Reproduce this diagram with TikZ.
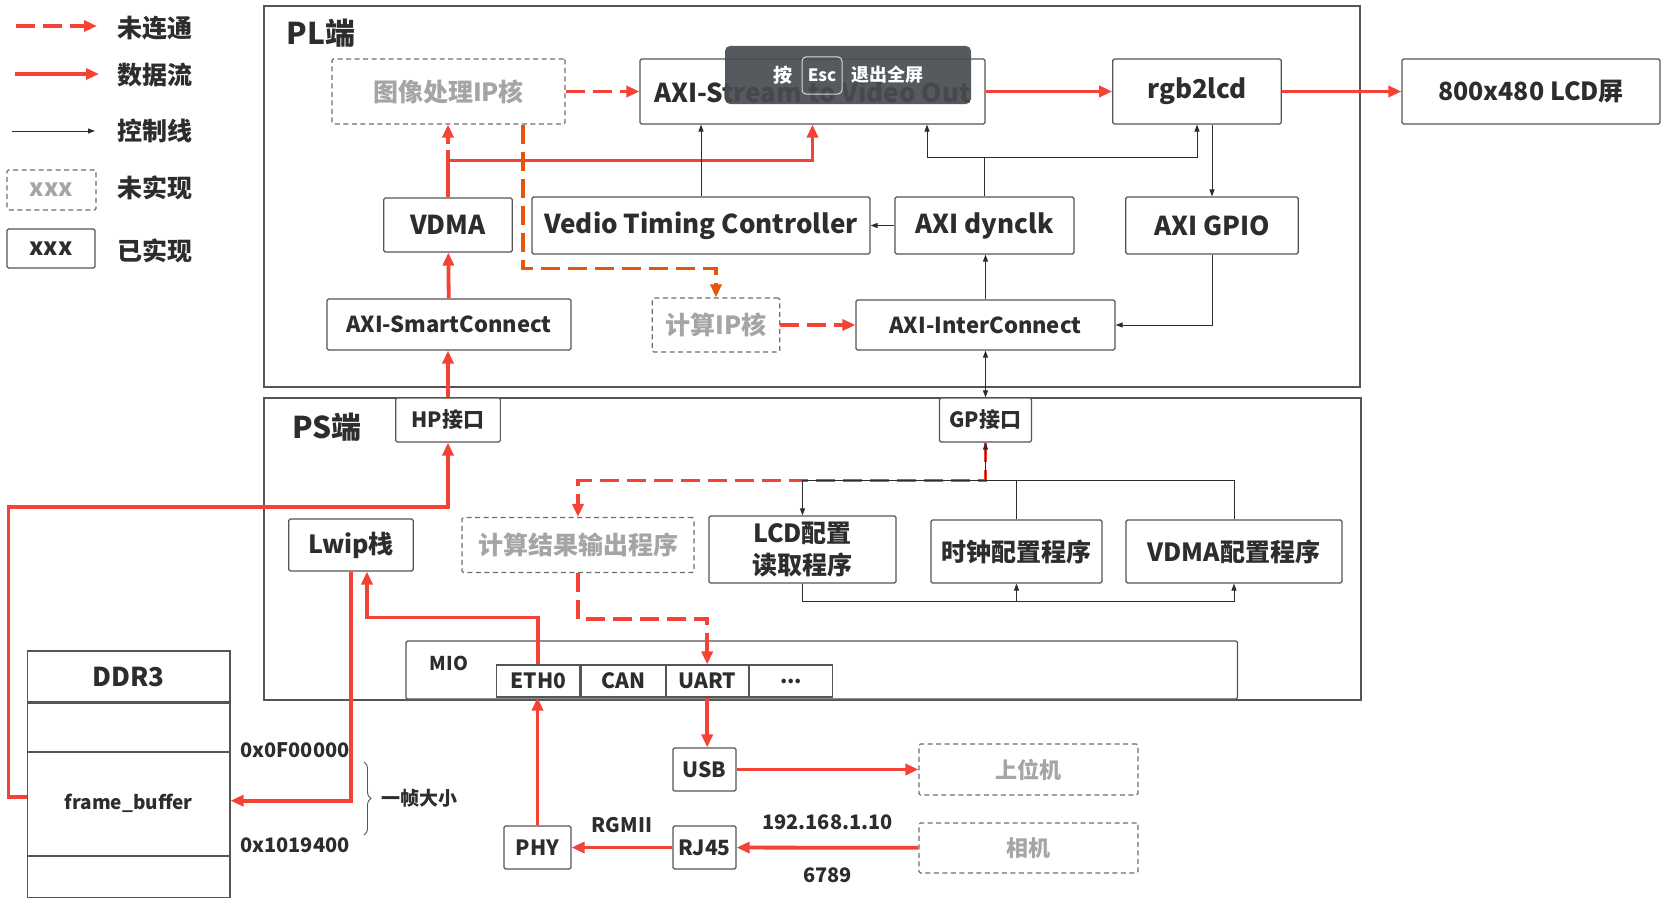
\documentclass[tikz,border=0pt]{standalone}
\usepackage{fontspec}
\setmainfont{Noto Sans CJK SC}
\usepackage{tikz}
\usetikzlibrary{arrows.meta,positioning,decorations.pathreplacing}

\definecolor{dataRed}{RGB}{244,67,54}
\definecolor{todoOrange}{RGB}{230,85,10}
\definecolor{txtDark}{RGB}{45,45,45}
\definecolor{txtGrey}{RGB}{165,165,165}
\definecolor{lineGrey}{RGB}{85,85,85}
\definecolor{tipBg}{RGB}{72,75,80}

\begin{document}
\begin{tikzpicture}
  [x=1pt,y=-1pt,
   every node/.style={rectangle,align=center,inner sep=0pt,text=txtDark,
                      font=\bfseries\fontsize{25}{32}\selectfont},
   box/.style 2 args={draw=lineGrey,line width=1.1pt,fill=white,rounded corners=1.5pt,
                      minimum width=#1,minimum height=#2},
   todobox/.style 2 args={box={#1}{#2},draw=lineGrey!85,dash pattern=on 5pt off 3.5pt,text=txtGrey},
   frame/.style 2 args={draw=lineGrey,line width=1.1pt,minimum width=#1,minimum height=#2},
   fxl/.style={font=\bfseries\fontsize{30}{34}\selectfont},
   fl/.style={font=\bfseries\fontsize{26}{31}\selectfont},
   fm/.style={font=\bfseries\fontsize{22}{27}\selectfont},
   fs/.style={font=\bfseries\fontsize{21}{25}\selectfont},
   fxs/.style={font=\bfseries\fontsize{19}{23}\selectfont},
   flow/.style={draw=dataRed,line width=3.8pt,-{Triangle[length=13pt,width=11pt]}},
   flowtodo/.style={flow,dash pattern=on 19pt off 8pt},
   orangetodo/.style={flowtodo,draw=todoOrange,line width=3.3pt},
   ctrl/.style={draw=txtDark,line width=1pt,-{Triangle[length=7pt,width=5pt]}}]

  \useasboundingbox (0,0) rectangle (1663,899);

  % legend
  \coordinate (lg1) at (16,26);  \coordinate (lg1e) at (97,26);
  \coordinate (lg2) at (15,74);  \coordinate (lg2e) at (99,74);
  \coordinate (lg3) at (12,131); \coordinate (lg3e) at (95,131);
  \draw[flowtodo] (lg1) -- (lg1e);
  \draw[flow] (lg2) -- (lg2e);
  \draw[ctrl] (lg3) -- (lg3e);
  \node[todobox={89pt}{40pt},font=\bfseries\fontsize{24}{28}\selectfont] (lgtodo) at (51.5,190) {xxx};
  \node[box={88pt}{39pt},font=\bfseries\fontsize{24}{28}\selectfont] (lgdone) at (51,248.5) {xxx};
  \node (lgt1) at (155,28) {未连通};
  \node (lgt2) at (155,75) {数据流};
  \node (lgt3) at (155,131) {控制线};
  \node (lgt4) at (155,188) {未实现};
  \node (lgt5) at (155,251) {已实现};

  % PL / PS frames
  \node[frame={1096pt}{381pt}] (pl) at (812,196.5) {};
  \node[frame={1097pt}{302pt}] (ps) at (812.5,549) {};
  \node[fxl] (pllabel) at (321,33) {PL端};
  \node[fxl] (pslabel) at (327,427) {PS端};

  % PL side
  \node[todobox={233pt}{65pt}] (img) at (448.5,91.5) {图像处理IP核};
  \node[box={345pt}{65pt},fl] (axis) at (812.5,91.5) {AXI-Stream to Video Out};
  \node[box={168.5pt}{65pt},fl] (rgb) at (1197,91.5) {rgb2lcd};
  \node[box={258pt}{65pt}] (lcd) at (1531,91.5) {800x480 LCD屏};
  \node[box={128.5pt}{54pt},fl] (vdma) at (448,225) {VDMA};
  \node[box={338pt}{57pt},fl] (vtc) at (701,225.5) {Vedio Timing Controller};
  \node[box={179pt}{57pt},fl] (dynclk) at (984.5,225.5) {AXI dynclk};
  \node[box={172.5pt}{57pt},fl] (gpio) at (1212,225.5) {AXI GPIO};
  \node[box={244pt}{51pt},fm] (smart) at (449,324.5) {AXI-SmartConnect};
  \node[todobox={127.5pt}{54pt}] (calc) at (716,325) {计算IP核};
  \node[box={259pt}{50pt},fm] (inter) at (985.5,325) {AXI-InterConnect};

  % PS side
  \node[box={104.6pt}{44pt},fs] (hp) at (448,420) {HP接口};
  \node[box={92pt}{44pt},fs] (gp) at (985.5,420) {GP接口};
  \node[box={124.5pt}{52pt}] (lwip) at (351,545) {Lwip栈};
  \node[todobox={232pt}{55pt}] (res) at (578,545) {计算结果输出程序};
  \node[box={187pt}{67pt}] (lcdcfg) at (802.5,549.5) {LCD配置\\读取程序};
  \node[box={171pt}{63pt}] (clk) at (1016.5,551.5) {时钟配置程序};
  \node[box={216pt}{63pt}] (vdmacfg) at (1234,551.5) {VDMA配置程序};
  \node[box={831.5pt}{58pt}] (mio) at (821.75,670) {};
  \node[fxs] (miolabel) at (449,663) {MIO};
  \node[box={83.5pt}{32pt},fs,rounded corners=0pt] (eth) at (538.25,681) {ETH0};
  \node[box={84pt}{32pt},fs,rounded corners=0pt,right=0pt of eth] (can) {CAN};
  \node[box={82pt}{32pt},fs,rounded corners=0pt,right=0pt of can] (uart) {UART};
  \node[box={83.5pt}{32pt},fs,rounded corners=0pt,right=0pt of uart] (more) {...};

  % outside
  \node[box={63pt}{43pt},fs] (usb) at (704.5,769.5) {USB};
  \node[todobox={219pt}{51pt},font=\bfseries\fontsize{22}{26}\selectfont] (host) at (1028.5,769.5) {上位机};
  \node[todobox={219pt}{50pt},font=\bfseries\fontsize{22}{26}\selectfont] (cam) at (1028.5,848) {相机};
  \node[box={63pt}{43pt},fs] (rj) at (704.5,847.5) {RJ45};
  \node[box={67pt}{43pt},fs] (phy) at (537.5,847.5) {PHY};

  % DDR3 memory map
  \node[box={202.5pt}{51pt},rounded corners=0pt,font=\bfseries\fontsize{26}{30}\selectfont] (ddr) at (128.75,676.5) {DDR3};
  \node[box={202.5pt}{48pt},rounded corners=0pt,below=0pt of ddr] (ddrfree) {};
  \node[box={202.5pt}{103pt},rounded corners=0pt,fxs,below=0pt of ddrfree] (fb) {frame\_buffer};
  \node[box={202.5pt}{41pt},rounded corners=0pt,below=0pt of fb] (ddrtail) {};
  \node[font=\bfseries\fontsize{20}{24}\selectfont] (addrtop) at (295,750) {0x0F00000};
  \node[font=\bfseries\fontsize{20}{24}\selectfont] (addrbot) at (295,845) {0x1019400};
  \draw[decorate,decoration={brace,amplitude=7pt},draw=lineGrey,line width=0.9pt]
    (364,762) -- (364,835) node[midway,right=17pt,fxs] (framesize) {一帧大小};

  % data paths in PL
  \draw[flowtodo] (img) -- (axis);
  \draw[flow] (axis) -- (rgb);
  \draw[flow] (rgb) -- (lcd);
  \draw[flow] (smart) -- (vdma);
  \draw[flow] (hp) -- (hp |- smart.south);
  \draw[flow,-] (vdma.north) -- ++(0,-37) coordinate (vsplit);
  \draw[flowtodo,dash pattern=on 10pt off 6pt] (vsplit) -- (vsplit |- img.south);
  \draw[flow] (vsplit) -| (axis.south);
  \draw[orangetodo] ([xshift=74.5pt]img.south) -- ++(0,144) -| (calc.north);
  \draw[flowtodo] (calc) -- (inter);

  % control lines in PL
  \draw[ctrl] (vtc.north) -- (vtc.north |- axis.south);
  \draw[ctrl] (dynclk) -- (vtc);
  \draw[ctrl,-] (dynclk.north) -- ++(0,-39) coordinate (dk);
  \draw[ctrl] (dk) -| ([xshift=114.5pt]axis.south);
  \draw[ctrl] (dk) -| (rgb.south);
  \draw[ctrl] (rgb.south -| gpio.north) -- (gpio.north);
  \draw[ctrl] (gpio.south) |- (inter.east);
  \draw[ctrl] (inter.north) -- (inter.north |- dynclk.south);
  \draw[ctrl,{Triangle[length=7pt,width=5pt]}-{Triangle[length=7pt,width=5pt]}] (inter.south) -- (inter.south |- gp.north);

  % PS side
  \path (gp.south) ++(0,38) coordinate (gpbus);
  \draw[flowtodo] (gp.south) -- (gpbus) -| (res.north);
  \draw[ctrl,-] (vdmacfg.north) |- (gpbus);
  \draw[ctrl,-] (clk.north) -- (clk.north |- gpbus);
  \draw[ctrl] (gpbus) -- (gp.south);
  \draw[ctrl] (gpbus) -| (lcdcfg.north);
  \draw[ctrl] (lcdcfg.south) -- ++(0,17.5) coordinate (cfgbus) -| (vdmacfg.south);
  \draw[ctrl] (cfgbus -| clk.south) -- (clk.south);
  \draw[flow] (eth.north) -- ++(0,-47) -| ([xshift=16pt]lwip.south);
  \draw[flowtodo] (res.south) -- ++(0,46) -| (uart.north);

  % peripherals and DDR
  \draw[flow] (uart.south) -- (uart.south |- usb.north);
  \draw[flow] (usb) -- (host);
  \draw[flow] (cam) -- node[midway,yshift=25pt,font=\bfseries\fontsize{20}{24}\selectfont] (ip) {192.168.1.10}
                       node[midway,yshift=-28pt,font=\bfseries\fontsize{20}{24}\selectfont] (port) {6789} (rj);
  \draw[flow] (rj) -- node[midway,yshift=22pt,font=\bfseries\fontsize{20}{24}\selectfont] (rgmii) {RGMII} (phy);
  \draw[flow] (phy.north) -- (phy.north |- eth.south);
  \draw[flow] (lwip.south) |- ([yshift=3pt]fb.east);
  \coordinate (ddrup) at (8.5,507);
  \draw[flow] ([yshift=7pt]fb.west) -| (ddrup) -| (hp.south);

  % screenshot hint on top
  \node[fill=tipBg,fill opacity=0.92,rounded corners=5pt,minimum width=246pt,minimum height=58pt] (esctip) at (848,75) {};
  \node[text=white,fxs] (escpress) at (783,75) {按};
  \node[draw=white!85!black,line width=1pt,rounded corners=4pt,minimum width=40pt,minimum height=37pt,
        text=white,font=\bfseries\fontsize{17}{20}\selectfont] (esckey) at (822,75.5) {Esc};
  \node[text=white,font=\bfseries\fontsize{18}{22}\selectfont] (escexit) at (887,75) {退出全屏};
\end{tikzpicture}
\end{document}
